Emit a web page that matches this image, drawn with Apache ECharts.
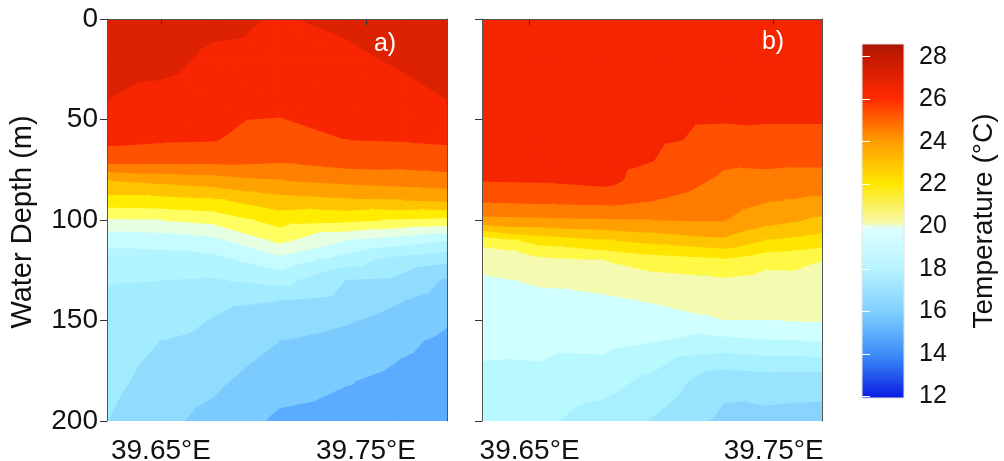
<!DOCTYPE html>
<html>
<head>
<meta charset="utf-8">
<script src="https://cdn.jsdelivr.net/npm/echarts@6/dist/echarts.min.js"></script>
<style>
  html, body { margin: 0; padding: 0; background: #fff; }
  #chart { width: 1004px; height: 461px; }
</style>
</head>
<body>
<div id="chart"></div>
<script>
// depth rows shared by both sections (m)
const depths = [0, 20, 40, 60, 70, 80, 90, 100, 110, 120, 130, 140, 150, 160, 180, 200]

// section a) longitudes (edges of the panel included)
const lonA = [39.6237, 39.6495, 39.6754, 39.708, 39.7407, 39.7666, 39.7895]
// temperature (degC), one row per depth, one column per longitude
const tempA = [
  [27.8, 27.6, 27.25, 26.9, 27.25, 27.5, 27.8],
  [27.4, 27.3, 26.8, 26.7, 26.75, 27.15, 27.4],
  [27.0, 26.7, 26.45, 26.35, 26.4, 26.55, 27.0],
  [26.25, 26.1, 26.05, 25.55, 26.0, 26.05, 26.15],
  [25.4, 25.35, 25.3, 25.15, 25.5, 25.45, 25.55],
  [23.0, 23.3, 23.55, 24.0, 24.3, 24.45, 24.6],
  [21.6, 21.65, 21.85, 22.6, 22.85, 23.0, 23.15],
  [19.85, 20.0, 20.3, 21.4, 21.2, 20.9, 20.75],
  [18.25, 18.35, 18.7, 20.25, 19.0, 18.5, 18.0],
  [17.6, 17.6, 17.65, 18.6, 17.45, 16.55, 16.2],
  [17.05, 17.0, 16.9, 17.35, 15.95, 15.75, 14.85],
  [16.9, 16.7, 16.2, 16.0, 15.6, 15.05, 14.5],
  [16.75, 16.35, 15.95, 15.5, 15.1, 14.6, 14.1],
  [16.6, 16.0, 15.75, 15.0, 14.65, 14.2, 13.8],
  [16.3, 15.6, 15.2, 14.4, 14.05, 13.75, 13.5],
  [16.0, 15.25, 14.7, 13.8, 13.6, 13.5, 13.3]
]

// section b)
const lonB = [39.6305, 39.6544, 39.6802, 39.6995, 39.7294, 39.7466, 39.7698]
const tempB = [
  [26.7, 26.7, 26.75, 26.65, 26.7, 26.7, 26.7],
  [26.6, 26.6, 26.65, 26.55, 26.55, 26.55, 26.55],
  [26.5, 26.5, 26.55, 26.4, 26.35, 26.3, 26.3],
  [26.35, 26.35, 26.45, 26.2, 25.75, 25.8, 25.8],
  [26.2, 26.2, 26.4, 26.05, 25.15, 25.2, 25.2],
  [26.05, 26.1, 26.3, 25.6, 24.85, 24.75, 24.65],
  [25.15, 25.25, 25.35, 25.05, 24.5, 24.1, 23.8],
  [23.7, 23.8, 23.9, 24.0, 24.05, 23.4, 22.8],
  [20.3, 21.4, 21.9, 22.3, 22.8, 22.0, 21.5],
  [19.35, 19.7, 20.0, 20.45, 20.8, 20.3, 20.0],
  [18.85, 19.1, 19.3, 19.6, 19.85, 19.65, 19.7],
  [18.6, 18.8, 18.85, 19.05, 19.4, 19.35, 19.4],
  [18.4, 18.5, 18.6, 18.55, 18.98, 18.98, 19.05],
  [18.2, 18.25, 18.3, 18.05, 17.7, 17.9, 18.05],
  [17.8, 17.75, 17.4, 16.75, 15.3, 15.45, 15.4],
  [17.4, 17.2, 16.5, 15.95, 14.75, 14.7, 14.6]
]

// contour breaks (degC)
const breaks = [14, 15, 16, 17, 18, 19, 20, 21, 22, 23, 24, 25, 26, 27]
const xTicks = [39.65, 39.75]
const depthTicks = [0, 50, 100, 150, 200]
const cbTicks = [12, 14, 16, 18, 20, 22, 24, 26, 28]
const cbRange = [11.92, 28.6]

// band fills, one more than breaks
const colorsA = ['#5aacff', '#7ccbff', '#90dcff', '#a3ecff', '#b2f4ff', '#c6fbff', '#e6ffe2',
  '#ffff62', '#ffec00', '#ffc400', '#ffa200', '#ff8000', '#ff5200', '#f82600', '#dc2200']
const colorsB = ['#88d4ff', '#88d4ff', '#98e4ff', '#a8f0ff', '#b8f8ff', '#d0ffff', '#f4fab0',
  '#fff844', '#ffe400', '#ffc400', '#ffa000', '#ff7c00', '#ff5000', '#f52500', '#f52500']

// colour bar
const cbStops = [12, 14, 16, 18, 19.9, 20.2, 22, 24, 26, 28, 28.6]
const cbColors = ['#0b1fe3', '#3d8ef7', '#7fd0ff', '#b6f3ff', '#dcffff', '#f7f8a8',
  '#ffe800', '#ff9c00', '#ff2a00', '#c41a00', '#a81400']

const FONT = 'Liberation Sans'

// keep the part of a polygon above (or below) a level, values linear on edges
function clipPoly(poly, level, keepAbove) {
  const out = []
  for (let i = 0; i < poly.length; i++) {
    const a = poly[i]
    const b = poly[(i + 1) % poly.length]
    const ina = keepAbove ? a[2] >= level : a[2] <= level
    const inb = keepAbove ? b[2] >= level : b[2] <= level
    if (ina) out.push(a)
    if (ina !== inb) {
      const f = (level - a[2]) / (b[2] - a[2])
      out.push([a[0] + f * (b[0] - a[0]), a[1] + f * (b[1] - a[1]), level])
    }
  }
  return out
}

function contourSeries(lons, temps, colors, axisIndex) {
  const cells = []
  for (let j = 0; j < depths.length - 1; j++) {
    for (let i = 0; i < lons.length - 1; i++) {
      cells.push([lons[i], depths[j], i, j])
    }
  }
  return {
    type: 'custom',
    coordinateSystem: 'cartesian2d',
    xAxisIndex: axisIndex,
    yAxisIndex: axisIndex,
    silent: true,
    clip: true,
    data: cells,
    renderItem(params, api) {
      const i = api.value(2)
      const j = api.value(3)
      const p = (ii, jj) => [lons[ii], depths[jj], temps[jj][ii]]
      const tris = [
        [p(i, j), p(i + 1, j), p(i + 1, j + 1)],
        [p(i, j), p(i + 1, j + 1), p(i, j + 1)]
      ]
      const children = []
      tris.forEach(tri => {
        for (let k = 0; k < colors.length; k++) {
          let poly = tri
          if (k > 0) poly = clipPoly(poly, breaks[k - 1], true)
          if (k < breaks.length) poly = clipPoly(poly, breaks[k], false)
          if (poly.length < 3) continue
          children.push({
            type: 'polygon',
            shape: { points: poly.map(v => api.coord([v[0], v[1]])) },
            style: { fill: colors[k], stroke: colors[k], lineWidth: 1.2, lineJoin: 'round' }
          })
        }
      })
      return { type: 'group', children }
    }
  }
}

const frame = { show: true, lineStyle: { color: '#555', width: 1 } }
const labelStyle = { fontFamily: FONT, fontSize: 28, color: '#111' }

function bottomAxis(lons, gridIndex) {
  return {
    type: 'value', gridIndex, min: lons[0], max: lons[lons.length - 1], z: 5,
    axisLine: frame, splitLine: { show: false },
    axisTick: { customValues: xTicks, length: 6, lineStyle: { color: '#333' } },
    axisLabel: Object.assign({ customValues: xTicks, margin: 16,
      formatter: v => v.toFixed(2) + '°E' }, labelStyle)
  }
}
function topAxis(lons, gridIndex) {
  return {
    type: 'value', gridIndex, position: 'top', min: lons[0], max: lons[lons.length - 1], z: 5,
    axisLine: frame, splitLine: { show: false }, axisTick: { show: false }, axisLabel: { show: false }
  }
}
function depthAxis(gridIndex, labels) {
  return {
    type: 'value', gridIndex, inverse: true, min: 0, max: 200, interval: 50, z: 5,
    axisLine: frame, splitLine: { show: false },
    axisTick: { customValues: depthTicks, length: 7, lineStyle: { color: '#333' } },
    axisLabel: Object.assign({ show: labels, customValues: depthTicks, margin: 9 }, labelStyle)
  }
}
function rightFrame(gridIndex) {
  return {
    type: 'value', gridIndex, position: 'right', inverse: true, min: 0, max: 200, z: 5,
    axisLine: frame, splitLine: { show: false }, axisTick: { show: false }, axisLabel: { show: false }
  }
}

const chart = echarts.init(document.getElementById('chart'))

chart.setOption({
  animation: false,
  backgroundColor: '#fff',
  grid: [
    { left: 107, top: 19, width: 340, height: 402, outerBoundsMode: 'none' },
    { left: 482, top: 19, width: 340, height: 402, outerBoundsMode: 'none' },
    { left: 862, top: 44, width: 42, height: 354, outerBoundsMode: 'none' }
  ],
  xAxis: [
    bottomAxis(lonA, 0),
    bottomAxis(lonB, 1),
    { type: 'value', gridIndex: 2, min: 0, max: 1, show: false },
    topAxis(lonA, 0),
    topAxis(lonB, 1)
  ],
  yAxis: [
    depthAxis(0, true),
    depthAxis(1, false),
    {
      type: 'value', gridIndex: 2, position: 'right', min: cbRange[0], max: cbRange[1], z: 5,
      axisLine: { show: false }, splitLine: { show: false },
      axisTick: { customValues: cbTicks, inside: true, length: 8, lineStyle: { color: '#fff', width: 1 } },
      axisLabel: { customValues: cbTicks, margin: 15, fontFamily: FONT, fontSize: 25, color: '#111' }
    },
    rightFrame(0),
    rightFrame(1),
    {
      type: 'value', gridIndex: 2, position: 'left', min: cbRange[0], max: cbRange[1], z: 5,
      axisLine: { show: false }, splitLine: { show: false },
      axisTick: { customValues: cbTicks, inside: true, length: 8, lineStyle: { color: '#fff', width: 1 } },
      axisLabel: { show: false }
    }
  ],
  series: [
    contourSeries(lonA, tempA, colorsA, 0),
    contourSeries(lonB, tempB, colorsB, 1),
    {
      type: 'custom',
      coordinateSystem: 'cartesian2d',
      xAxisIndex: 2,
      yAxisIndex: 2,
      silent: true,
      data: [[0, cbRange[0], 1, cbRange[1]]],
      renderItem(params, api) {
        const p0 = api.coord([api.value(0), api.value(3)])
        const p1 = api.coord([api.value(2), api.value(1)])
        const span = cbRange[1] - cbRange[0]
        const stops = cbStops.map((v, i) => ({ offset: (v - cbRange[0]) / span, color: cbColors[i] }))
          .filter(s => s.offset >= 0 && s.offset <= 1)
        return {
          type: 'rect',
          shape: { x: p0[0], y: p0[1], width: p1[0] - p0[0], height: p1[1] - p0[1] },
          style: { fill: new echarts.graphic.LinearGradient(0, 1, 0, 0, stops), stroke: '#e4e4e4', lineWidth: 1 }
        }
      }
    }
  ],
  graphic: [
    { type: 'text', x: 23, y: 222, rotation: Math.PI / 2,
      style: { text: 'Water Depth (m)', fontFamily: FONT, fontSize: 29, fill: '#111', align: 'center', verticalAlign: 'middle' } },
    { type: 'text', x: 984, y: 221, rotation: Math.PI / 2,
      style: { text: 'Temperature (°C)', fontFamily: FONT, fontSize: 28, fill: '#111', align: 'center', verticalAlign: 'middle' } },
    { type: 'text', x: 385, y: 44, z: 10,
      style: { text: 'a)', fontFamily: FONT, fontSize: 25, fill: '#fff', align: 'center', verticalAlign: 'middle' } },
    { type: 'text', x: 773, y: 42, z: 10,
      style: { text: 'b)', fontFamily: FONT, fontSize: 25, fill: '#fff', align: 'center', verticalAlign: 'middle' } }
  ]
})
</script>
</body>
</html>
